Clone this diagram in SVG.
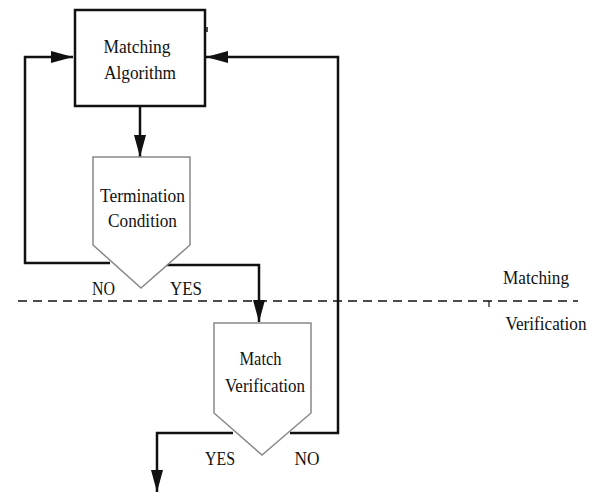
<svg xmlns="http://www.w3.org/2000/svg" width="591" height="494" viewBox="0 0 591 494">
<style>
text{font-family:"Liberation Serif","Times New Roman",serif;font-size:19px;fill:#111;text-anchor:middle}
.w{fill:none;stroke:#111;stroke-width:2.5}
.d{fill:#fff;stroke:#888;stroke-width:1.5}
</style>
<defs>
<marker id="ah" viewBox="0 0 22 12" refX="22" refY="6" markerWidth="22" markerHeight="12" markerUnits="userSpaceOnUse" orient="auto">
<path d="M0,0 L22,6 L0,12 Z" fill="#111"/>
</marker>
</defs>
<rect width="591" height="494" fill="#fff"/>
<g id="connectors">
<line x1="18" y1="301" x2="578" y2="301" stroke="#111" stroke-width="1.5" stroke-dasharray="9,6"/>
<line x1="489" y1="301" x2="489" y2="307" stroke="#111" stroke-width="1.2"/>
<line x1="140" y1="106" x2="140" y2="157" class="w" marker-end="url(#ah)"/>
<polyline points="110,263 25,263 25,57 73,57" class="w" marker-end="url(#ah)"/>
<polyline points="165,265 259,265 259,322" class="w" marker-end="url(#ah)"/>
<polyline points="290,433 338,433 338,57 206,57" class="w" marker-end="url(#ah)"/>
<polyline points="233,433 157,433 157,492" class="w" marker-end="url(#ah)"/>
</g>
<g id="matching-algorithm">
<rect x="75" y="10" width="130" height="96" class="w"/>
<line x1="207" y1="27" x2="207" y2="32" stroke="#111" stroke-width="1.5"/>
<text x="137" y="53" textLength="67" lengthAdjust="spacingAndGlyphs">Matching</text>
<text x="140" y="79" textLength="72" lengthAdjust="spacingAndGlyphs">Algorithm</text>
</g>
<g id="termination-condition">
<polygon points="93,157 190,157 190,245 141,288 93,245" class="d"/>
<text x="142.5" y="202" textLength="85" lengthAdjust="spacingAndGlyphs">Termination</text>
<text x="142.5" y="227" textLength="69" lengthAdjust="spacingAndGlyphs">Condition</text>
</g>
<g id="match-verification">
<polygon points="214,323 311,323 311,413 262,455 214,413" class="d"/>
<text x="260.5" y="365" textLength="42" lengthAdjust="spacingAndGlyphs">Match</text>
<text x="265" y="392" textLength="80" lengthAdjust="spacingAndGlyphs">Verification</text>
</g>
<g id="labels">
<text x="103.5" y="295" textLength="23" lengthAdjust="spacingAndGlyphs">NO</text>
<text x="186" y="295" textLength="32" lengthAdjust="spacingAndGlyphs">YES</text>
<text x="220" y="465" textLength="30" lengthAdjust="spacingAndGlyphs">YES</text>
<text x="307" y="465" textLength="25" lengthAdjust="spacingAndGlyphs">NO</text>
<text x="536" y="284" textLength="66" lengthAdjust="spacingAndGlyphs">Matching</text>
<text x="546" y="330" style="font-size:18px" textLength="81" lengthAdjust="spacingAndGlyphs">Verification</text>
</g>
</svg>
